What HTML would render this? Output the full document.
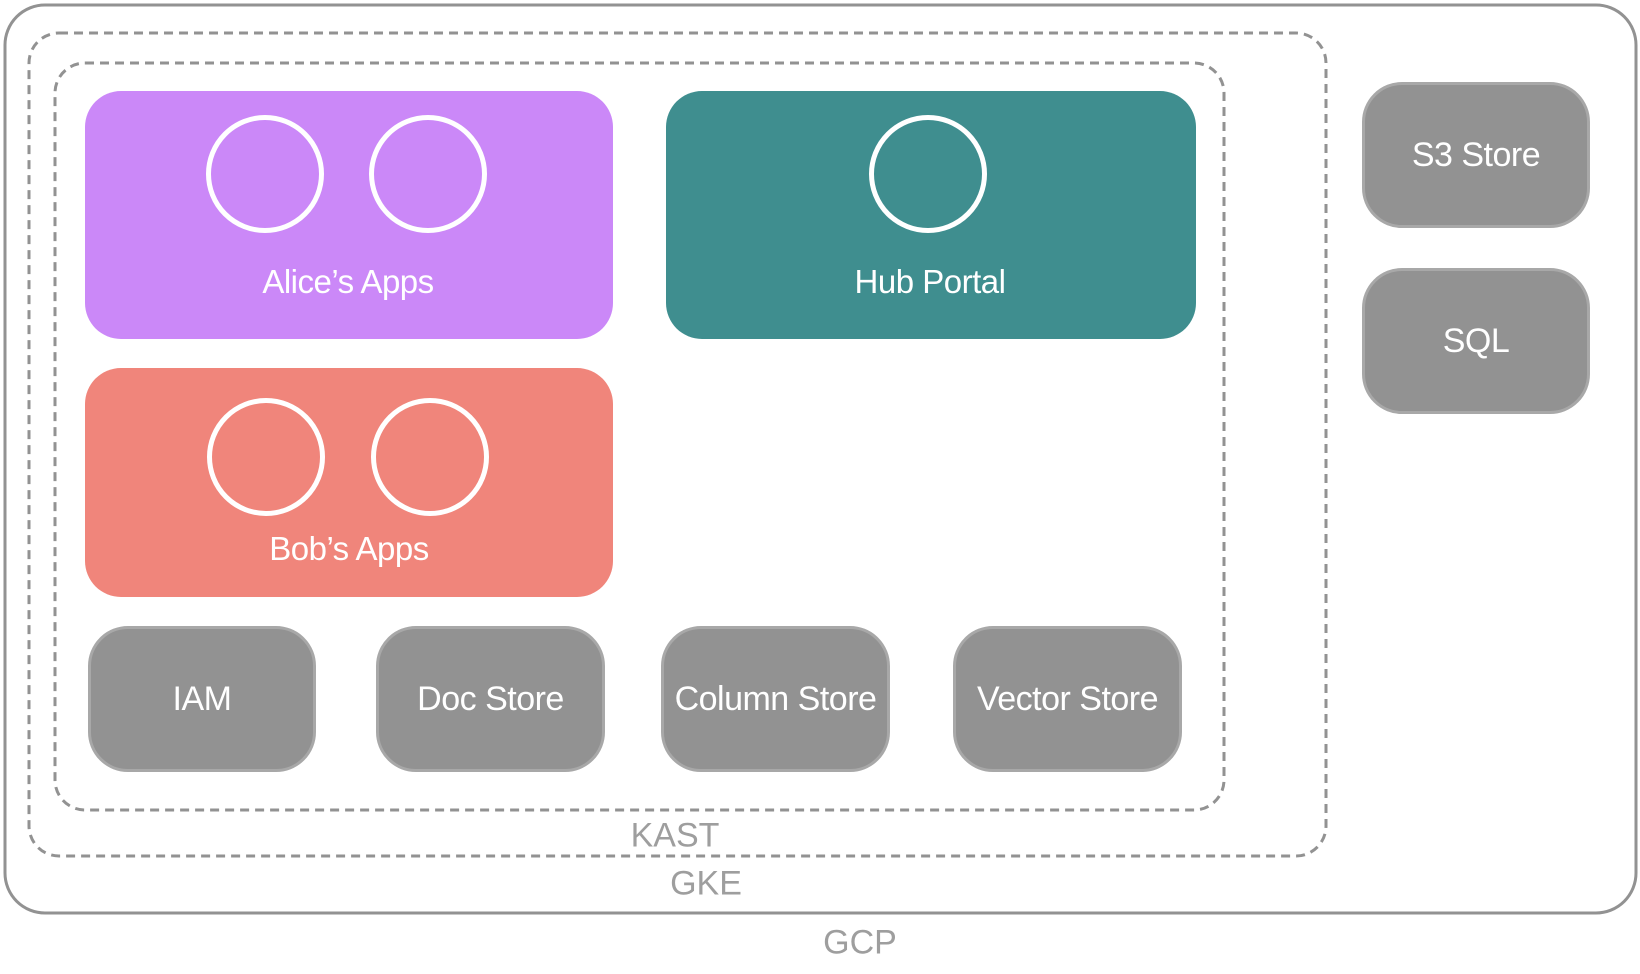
<!DOCTYPE html>
<html><head><style>
body{margin:0;width:1640px;height:974px;background:#fff;position:relative;overflow:hidden;font-family:"Liberation Sans",sans-serif}
.a{position:absolute;box-sizing:border-box}
.lbl{position:absolute;color:#fff;font-size:33px;text-align:center;transform:translate(-50%,-50%);white-space:nowrap;letter-spacing:-0.5px}
.g{background:#929292;border:3px solid #a8a8a8;border-radius:40px;display:flex;align-items:center;justify-content:center;color:#fff;font-size:34px;letter-spacing:-0.5px}
.c{position:absolute;width:118px;height:118px;border:5px solid #fff;border-radius:50%;box-sizing:border-box;transform:translate(-50%,-50%)}
.t{position:absolute;color:#9e9e9e;font-size:34px;transform:translate(-50%,-50%)}
</style></head><body>
<svg class="a" style="left:0;top:0" width="1640" height="974">
<rect x="5" y="5" width="1631" height="908" rx="40" fill="none" stroke="#929292" stroke-width="3"/>
<rect x="29" y="33" width="1297" height="823" rx="30" fill="none" stroke="#929292" stroke-width="3" stroke-dasharray="9 6"/>
<rect x="55" y="63" width="1169" height="747" rx="30" fill="none" stroke="#929292" stroke-width="3" stroke-dasharray="9 6"/>
</svg>
<div class="a" style="left:85px;top:91px;width:528px;height:248px;background:#cb88f8;border-radius:36px"></div>
<div class="a" style="left:666px;top:91px;width:530px;height:248px;background:#3f8e8f;border-radius:36px"></div>
<div class="a" style="left:85px;top:368px;width:528px;height:229px;background:#f0857b;border-radius:36px"></div>
<div class="c" style="left:265px;top:174px"></div>
<div class="c" style="left:428px;top:174px"></div>
<div class="c" style="left:928px;top:174px"></div>
<div class="c" style="left:266px;top:457px"></div>
<div class="c" style="left:430px;top:457px"></div>
<div class="lbl" style="left:348px;top:282px">Alice’s Apps</div>
<div class="lbl" style="left:930px;top:282px">Hub Portal</div>
<div class="lbl" style="left:349px;top:549px">Bob’s Apps</div>
<div class="a g" style="left:88px;top:626px;width:228px;height:146px">IAM</div>
<div class="a g" style="left:376px;top:626px;width:229px;height:146px">Doc Store</div>
<div class="a g" style="left:661px;top:626px;width:229px;height:146px">Column Store</div>
<div class="a g" style="left:953px;top:626px;width:229px;height:146px">Vector Store</div>
<div class="a g" style="left:1362px;top:82px;width:228px;height:146px">S3 Store</div>
<div class="a g" style="left:1362px;top:268px;width:228px;height:146px">SQL</div>
<div class="t" style="left:675px;top:836px">KAST</div>
<div class="t" style="left:706px;top:884px">GKE</div>
<div class="t" style="left:860px;top:943px">GCP</div>
</body></html>
